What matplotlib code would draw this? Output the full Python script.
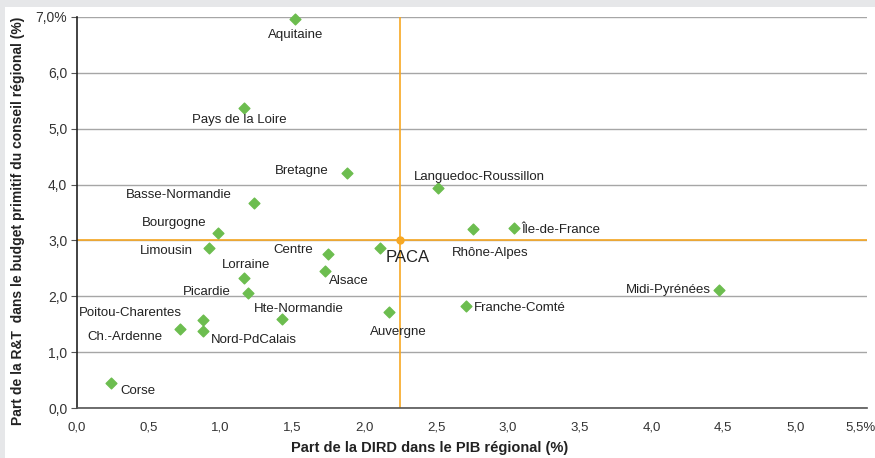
import matplotlib.pyplot as plt
from matplotlib.patches import Rectangle
from matplotlib.ticker import FixedLocator, FuncFormatter
from matplotlib.transforms import ScaledTranslation

# Regions: share of GDP spent on R&D (x) and share of R&T in regional budget (y)
regions = ["Aquitaine", "Pays de la Loire", "Bretagne", "Basse-Normandie",
           "Languedoc-Roussillon", "Bourgogne", "Limousin", "Centre", "PACA",
           "Lorraine", "Alsace", "Picardie", "Poitou-Charentes", "Hte-Normandie",
           "Auvergne", "Ch.-Ardenne", "Nord-PdCalais", "Corse", "Rhône-Alpes",
           "Île-de-France", "Midi-Pyrénées", "Franche-Comté"]
dird = [1.52, 1.16, 1.88, 1.23, 2.51, 0.98, 0.92, 1.75, 2.11, 1.16, 1.73, 1.19,
        0.88, 1.43, 2.17, 0.72, 0.88, 0.24, 2.76, 3.04, 4.47, 2.71]
rt = [6.96, 5.37, 4.20, 3.67, 3.94, 3.13, 2.86, 2.75, 2.86, 2.32, 2.45, 2.06,
      1.58, 1.59, 1.71, 1.41, 1.37, 0.45, 3.20, 3.23, 2.11, 1.83]

# reference (average) lines
mean_dird = 2.25
mean_rt = 3.0

# label placement: (dx px, dy px, ha)
label_pos = {
    "Aquitaine": (0, -16, "center"), "Pays de la Loire": (-4, -12, "center"),
    "Bretagne": (-18, 2, "right"), "Basse-Normandie": (-22, 8, "right"),
    "Languedoc-Roussillon": (-24, 11, "left"), "Bourgogne": (-11, 10, "right"),
    "Limousin": (-16, -3, "right"), "Centre": (-15, 4, "right"),
    "PACA": (6, -9, "left"), "Lorraine": (2, 13, "center"),
    "Alsace": (3, -10, "left"), "Picardie": (-17, 1, "right"),
    "Poitou-Charentes": (-22, 7, "right"), "Hte-Normandie": (16, 10, "center"),
    "Auvergne": (10, -20, "center"), "Ch.-Ardenne": (-18, -8, "right"),
    "Nord-PdCalais": (7, -9, "left"), "Corse": (9, -8, "left"),
    "Rhône-Alpes": (17, -24, "center"), "Île-de-France": (8, -2, "left"),
    "Midi-Pyrénées": (-8, 0, "right"), "Franche-Comté": (8, -2, "left"),
}

plt.rcParams['font.family'] = ['Liberation Sans', 'DejaVu Sans']

fig = plt.figure(figsize=(8.75, 4.58), dpi=100)
fig.patch.set_facecolor('#e6e7e9')
fig.patches.append(Rectangle((5 / 875, 0), 1, 1 - 7 / 458, transform=fig.transFigure,
                             facecolor='white', edgecolor='none', zorder=-10))

ax = fig.add_axes([77 / 875, 1 - 408 / 458, 790 / 875, 391 / 458])
ax.set_facecolor('white')
ax.set_xlim(0, 5.5)
ax.set_ylim(0, 7.0)

ax.yaxis.set_major_locator(FixedLocator([0, 1, 2, 3, 4, 5, 6, 7]))
ax.xaxis.set_major_locator(FixedLocator([0, 0.5, 1, 1.5, 2, 2.5, 3, 3.5, 4, 4.5, 5, 5.5]))
ax.yaxis.set_major_formatter(FuncFormatter(
    lambda v, p: f"{v:.1f}".replace('.', ',') + ("%" if v == 7 else "")))
ax.xaxis.set_major_formatter(FuncFormatter(
    lambda v, p: f"{v:.1f}".replace('.', ',') + ("%" if v == 5.5 else "")))

ax.grid(True, axis='y', color='#a6a6a6', linewidth=1)
ax.set_axisbelow(True)
for s in ['top', 'right']:
    ax.spines[s].set_visible(False)
ax.spines['left'].set_color('#222222')
ax.spines['left'].set_linewidth(1.2)
ax.spines['bottom'].set_color('#555555')
ax.spines['bottom'].set_linewidth(1.2)
ax.tick_params(axis='y', length=4, color='#555555', labelsize=10, labelcolor='#333333', pad=3)
ax.tick_params(axis='x', length=0, labelsize=9.5, labelcolor='#333333', pad=10)

# nudge the last x tick label so it stays inside the picture
last = ax.xaxis.get_major_ticks()[-1].label1
last.set_transform(last.get_transform() + ScaledTranslation(-6 / 100, 0, fig.dpi_scale_trans))

ax.axvline(mean_dird, color='#f7a823', linewidth=1.2, zorder=2)
ax.axhline(mean_rt, color='#f7a823', linewidth=1.2, zorder=2)
ax.plot([mean_dird], [mean_rt], 'o', color='#f7a823', markersize=5, zorder=3)

ax.scatter(dird, rt, marker='D', s=30, color='#6cbd4f', zorder=4, clip_on=False)

for name, x, y in zip(regions, dird, rt):
    dx, dy, ha = label_pos[name]
    ax.annotate(name, (x, y), xytext=(dx, dy), textcoords='offset pixels',
                ha=ha, va='center', fontsize=12 if name == "PACA" else 9.5,
                color='#222222', zorder=5)

ax.set_xlabel("Part de la DIRD dans le PIB régional (%)", fontsize=10.5,
              fontweight='bold', color='#222222')
ax.xaxis.set_label_coords(0.446, -0.085)
ax.set_ylabel("Part de la R&T  dans le budget primitif du conseil régional (%)",
              fontsize=10, fontweight='bold', color='#222222', va='center')
ax.yaxis.set_label_coords(-0.075, 0.48)

fig.savefig("out.png", dpi=100, facecolor=fig.get_facecolor())
